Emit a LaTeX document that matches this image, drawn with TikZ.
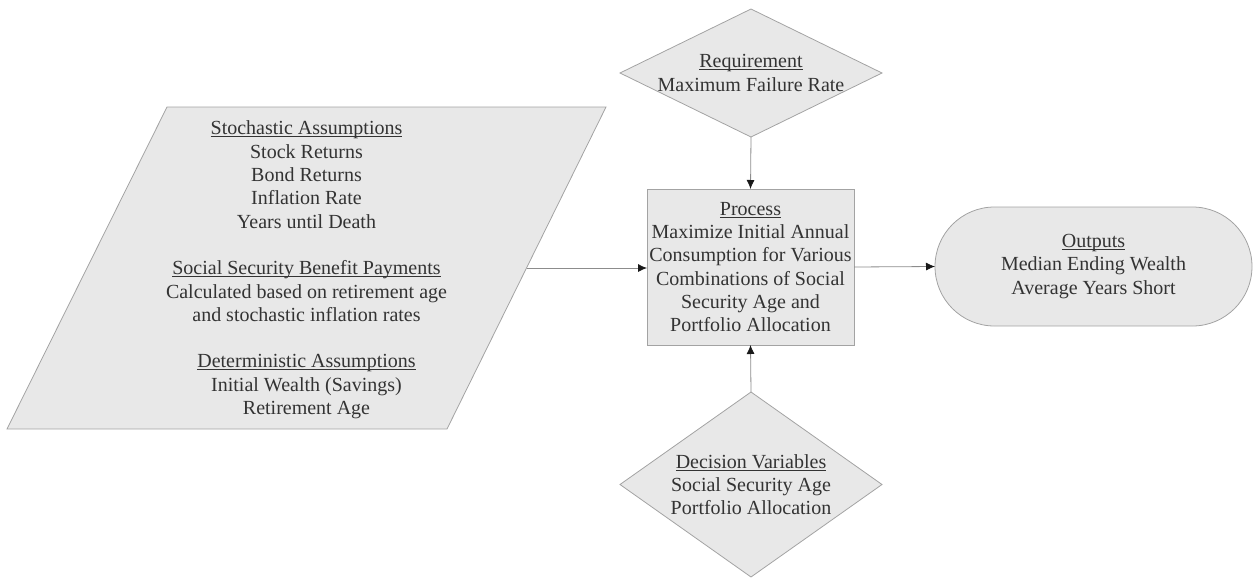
\documentclass[tikz,border=0pt]{standalone}
\usepackage{fontspec}
\setmainfont{Liberation Serif}
\usetikzlibrary{shapes.geometric,shapes.misc,arrows.meta}

\definecolor{boxfill}{HTML}{E8E8E8}
\definecolor{boxline}{HTML}{A3A3A3}
\definecolor{inktext}{HTML}{333333}
% heading with a flat underline just under the baseline
\newcommand{\hd}[1]{\setbox0=\hbox{#1}\rlap{\rule[-2.4pt]{\wd0}{0.9pt}}\box0}

\begin{document}
\begin{tikzpicture}[x=1pt,y=-1pt,
  block/.style={draw=boxline,fill=boxfill,line width=0.8pt,inner sep=0pt,outer sep=0pt},
  words/.style={text=inktext,align=center,font=\fontsize{20}{23.3}\selectfont,inner sep=0pt},
  flow/.style={draw=black!45,line width=0.8pt,-{Latex[length=9pt,width=8pt,black!90]}}]
  \useasboundingbox (0,0) rectangle (1254,579);

  % inputs (parallelogram)
  \coordinate (inTL) at (167,107);
  \coordinate (inTR) at (606,107);
  \coordinate (inBR) at (447,429);
  \coordinate (inBL) at (7,429);
  \coordinate (inEdge) at (526.5,268);
  \draw[block] (inTL) -- (inTR) -- (inBR) -- (inBL) -- cycle;
  \node[words] (inputText) at (306.5,270)
    {\hd{Stochastic Assumptions}\\Stock Returns\\Bond Returns\\Inflation Rate\\Years until Death\\[23.3pt]
     \hd{Social Security Benefit Payments}\\Calculated based on retirement age\\and stochastic inflation rates\\[23.3pt]
     \hd{Deterministic Assumptions}\\Initial Wealth (Savings)\\Retirement Age};

  % requirement and decision diamonds
  \node[block,diamond,minimum width=262,minimum height=128] (require) at (751,73) {};
  \node[words] (requireText) at (require.center) {\hd{Requirement}\\Maximum Failure Rate};
  \node[block,diamond,minimum width=262,minimum height=185] (decision) at (751,484.5) {};
  \node[words] (decisionText) at (decision.center)
    {\hd{Decision Variables}\\Social Security Age\\Portfolio Allocation};

  % process and outputs
  \node[block,words,rectangle,minimum width=207,minimum height=156] (process) at (750.5,267)
    {\hd{Process}\\Maximize Initial Annual\\Consumption for Various\\Combinations of Social\\Security Age and\\Portfolio Allocation};
  \node[block,words,rounded rectangle,minimum width=317,minimum height=119] (output) at (1093.5,266.5)
    {\hd{Outputs}\\Median Ending Wealth\\Average Years Short};

  % connectors
  \draw[flow] (inEdge) -- (inEdge -| process.west);
  \draw[flow] (process.east) -- (output.west);
  \draw[flow] (require.south) -- (process.north);
  \draw[flow] (decision.north) -- (process.south);
\end{tikzpicture}
\end{document}
